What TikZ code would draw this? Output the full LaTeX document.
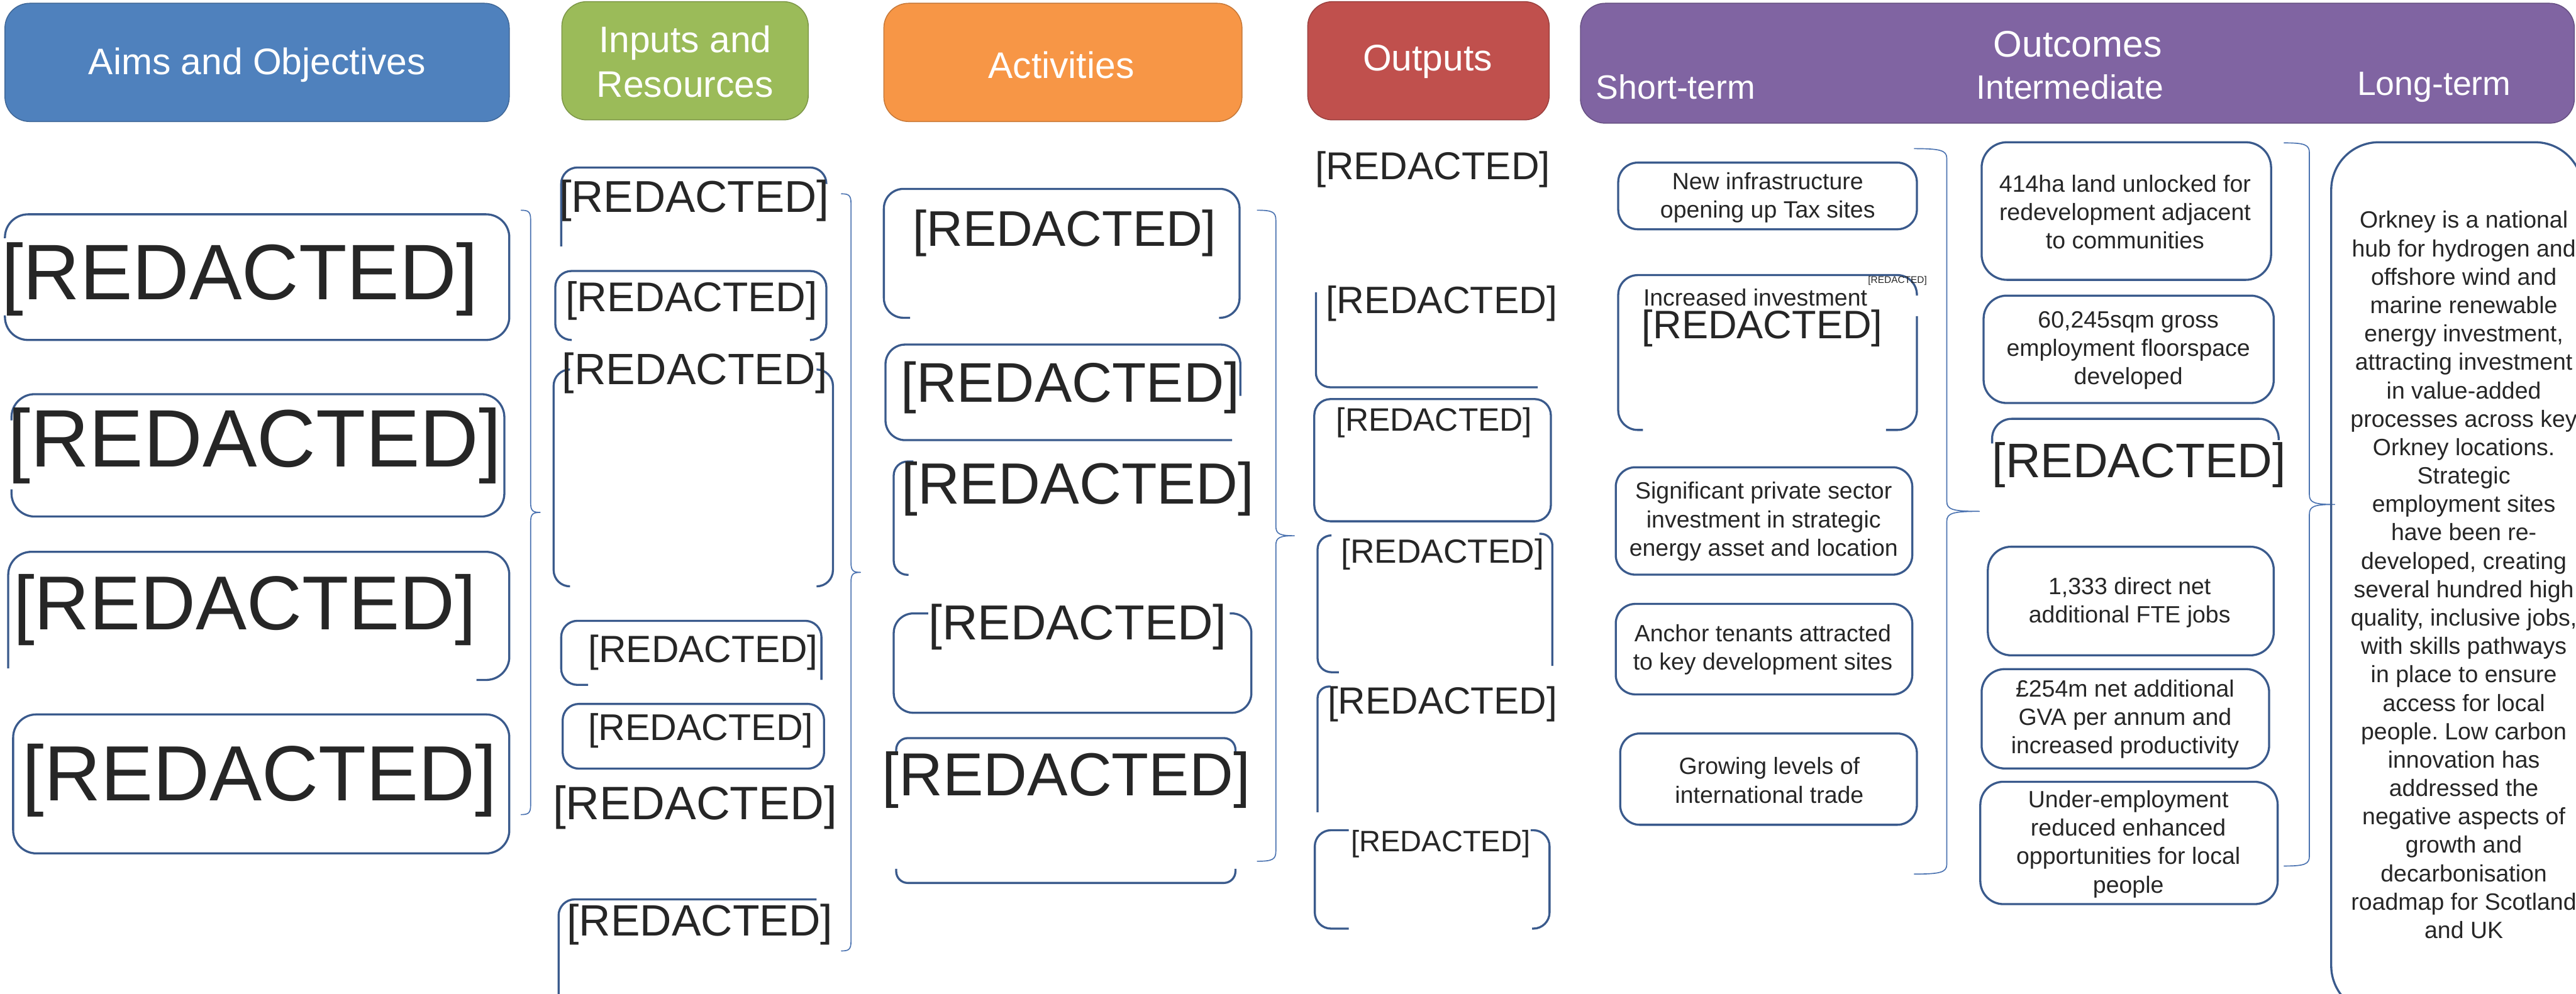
\documentclass[tikz,border=0pt]{standalone}
\usepackage{fontspec}
\setmainfont{Liberation Sans}
\usepackage{tikz}
\definecolor{aimsblue}{HTML}{4F81BD}
\definecolor{inpgreen}{HTML}{9BBB59}
\definecolor{actorange}{HTML}{F79646}
\definecolor{outred}{HTML}{C0504D}
\definecolor{outcpurple}{HTML}{8064A2}
\definecolor{edgeblue}{HTML}{3A5A8C}
\definecolor{braceblue}{HTML}{4A72B0}
\definecolor{inkgrey}{HTML}{262626}
\def\rsz#1{\fontsize{#1}{#1}\selectfont}
\def\sidebrace(#1:#2:#3:#4){%
  \pgfmathsetmacro\bmid{(#2+#3)/2}
  \draw[brc] (#1-#4,#2) .. controls (#1-0.2*#4,#2) and (#1,#2+1) .. (#1,#2+6) -- (#1,\bmid-6)
    .. controls (#1,\bmid-1) and (#1+0.2*#4,\bmid) .. (#1+#4,\bmid)
    .. controls (#1+0.2*#4,\bmid) and (#1,\bmid+1) .. (#1,\bmid+6) -- (#1,#3-6)
    .. controls (#1,#3-1) and (#1-0.2*#4,#3) .. (#1-#4,#3);}
\tikzset{
  hdr/.style={text=white, font=\fontsize{16}{19.2}\selectfont, align=center, inner sep=0pt},
  boxline/.style={draw=edgeblue, line width=0.9pt, rounded corners=8.5pt},
  redact/.style={text=inkgrey, inner sep=0pt},
  txt/.style={text=inkgrey, inner sep=0pt, align=center, font=\fontsize{10.2}{12.3}\selectfont\frenchspacing},
  brc/.style={draw=braceblue, line width=0.45pt}
}

\begin{document}
\begin{tikzpicture}[x=0.025cm, y=-0.025cm]
		%%%%% START %%%%%
		\clip (0,0) rectangle (1568,605);
		
		% headers
		\draw[fill=aimsblue, draw=aimsblue!80!black, rounded corners=10.7pt] (3,2) rectangle (310,74);
		\node[hdr] (aimsh) at (156.5,39.5) {Aims and Objectives};
		\draw[fill=inpgreen, draw=inpgreen!80!black, rounded corners=10.7pt] (342,1) rectangle (492,73);
		\node[hdr] (inph) at (417,37.5) {Inputs and\\Resources};
		\draw[fill=actorange, draw=actorange!80!black, rounded corners=10.7pt] (538,2) rectangle (756,74);
		\node[hdr] (acth) at (646,39.5) {Activities};
		\draw[fill=outred, draw=outred!80!black, rounded corners=10.7pt] (796,1) rectangle (943,73);
		\node[hdr] (outh) at (869,37.5) {Outputs};
		\draw[fill=outcpurple, draw=outcpurple!80!black, rounded corners=10.7pt] (962,2) rectangle (1567,75);
		\node[hdr] (outch) at (1264.7,27) {Outcomes};
		\node[hdr, font=\fontsize{14.6}{17}\selectfont] (shorth) at (1020,53) {Short-term};
		\node[hdr, font=\fontsize{14.6}{17}\selectfont] (midh) at (1260,53) {Intermediate};
		\node[hdr, font=\fontsize{14.6}{17}\selectfont] (longh) at (1481.6,53) {Long-term};
		
		% aims and objectives
		\draw[boxline, rounded corners=10pt] (3,145) -- (3,130.5) -- (310,130.5) -- (310,207) -- (3,207) -- (3,192);
		\draw[boxline, rounded corners=10pt] (7,256) -- (7,240) -- (307,240) -- (307,314.5) -- (7,314.5) -- (7,298);
		\draw[boxline, rounded corners=10pt] (5,407) -- (5,336) -- (310,336) -- (310,414) -- (290,414);
		\draw[boxline, rounded corners=10pt] (8,435) rectangle (310,519.6);
		\node[redact, font=\rsz{34.1}] (aims1) at (146,170) {[REDACTED]};
		\node[redact, font=\rsz{35.3}] (aims2) at (155,271.5) {[REDACTED]};
		\node[redact, font=\rsz{33.1}] (aims3) at (149,371.5) {[REDACTED]};
		\node[redact, font=\rsz{33.9}] (aims4) at (158,475) {[REDACTED]};
		\sidebrace(323:128:496:6)
		
		% inputs and resources
		\draw[boxline, rounded corners=7pt] (341.6,150) -- (341.6,102) -- (503,102) -- (503,112);
		\draw[boxline, rounded corners=7pt] (348,207) -- (338,207) -- (338,165) -- (503,165) -- (503,207) -- (493,207);
		\draw[boxline, rounded corners=7pt] (347,225) -- (337,225) -- (337,357) -- (347,357);
		\draw[boxline, rounded corners=7pt] (497,225) -- (507,225) -- (507,357) -- (497,357);
		\draw[boxline, rounded corners=7pt] (500,414) -- (500,378) -- (341.6,378) -- (341.6,417) -- (358,417);
		\draw[boxline, rounded corners=7pt] (342.5,428.6) rectangle (501.6,468);
		\draw[boxline, rounded corners=7pt] (340,615) -- (340,547.6) -- (497,547.6);
		\node[redact, font=\rsz{19.3}] (inp1) at (422.5,122) {[REDACTED]};
		\node[redact, font=\rsz{18}] (inp2) at (421,183) {[REDACTED]};
		\node[redact, font=\rsz{19}] (inp3) at (423,227) {[REDACTED]};
		\node[redact, font=\rsz{16.4}] (inp4) at (428,397.5) {[REDACTED]};
		\node[redact, font=\rsz{16.1}] (inp5) at (426.5,445) {[REDACTED]};
		\node[redact, font=\rsz{20.3}] (inp6) at (423,491.5) {[REDACTED]};
		\node[redact, font=\rsz{19}] (inp7) at (426,563) {[REDACTED]};
		\sidebrace(518:118:579:6)
		
		% activities
		\draw[boxline] (554,193.5) -- (538,193.5) -- (538,115) -- (754.5,115) -- (754.5,193.5) -- (742,193.5);
		\draw[boxline] (755,241) -- (755,209.8) -- (539,209.8) -- (539,268) -- (750,268);
		\draw[boxline, rounded corners=6pt] (556,281) -- (544,281) -- (544,350) -- (553,350);
		\draw[boxline] (565,373.5) -- (544,373.5) -- (544,434) -- (761.7,434) -- (761.7,373.5) -- (748.5,373.5);
		\draw[boxline, rounded corners=5pt] (545.5,459) -- (545.5,449.4) -- (752,449.4) -- (752,459);
		\draw[boxline, rounded corners=5pt] (545.5,529) -- (545.5,537.6) -- (752,537.6) -- (752,529);
		\node[redact, font=\rsz{21.7}] (act1) at (648,142) {[REDACTED]};
		\node[redact, font=\rsz{24.2}] (act2) at (651.5,236) {[REDACTED]};
		\node[redact, font=\rsz{25.2}] (act3) at (656,297.5) {[REDACTED]};
		\node[redact, font=\rsz{21.3}] (act4) at (656,381.7) {[REDACTED]};
		\node[redact, font=\rsz{26.3}] (act5) at (649,475) {[REDACTED]};
		\sidebrace(776.6:128:524.4:11.5)
		
		% outputs
		\draw[boxline, rounded corners=6.2pt] (801,178) -- (801,235.8) -- (936,235.8);
		\draw[boxline, rounded corners=7pt] (800,243) rectangle (944,317.4);
		\draw[boxline, rounded corners=6pt] (810,326) -- (802,326) -- (802,409.3) -- (815,409.3);
		\draw[boxline, rounded corners=5pt] (937,325) -- (944.9,325) -- (944.9,405.4);
		\draw[boxline, rounded corners=5pt] (810,418) -- (802,418) -- (802,494.5);
		\draw[boxline, rounded corners=7pt] (821,505.5) -- (800.3,505.5) -- (800.3,565.4) -- (821,565.4);
		\draw[boxline, rounded corners=7pt] (931.7,505.5) -- (943.2,505.5) -- (943.2,565.4) -- (932.6,565.4);
		\node[redact, font=\rsz{16.8}] (out1) at (872,103) {[REDACTED]};
		\node[redact, font=\rsz{16.5}] (out2) at (877.6,184.7) {[REDACTED]};
		\node[redact, font=\rsz{14}] (out3) at (873,257.4) {[REDACTED]};
		\node[redact, font=\rsz{14.5}] (out4) at (878,337.7) {[REDACTED]};
		\node[redact, font=\rsz{16.4}] (out5) at (878,428.6) {[REDACTED]};
		\node[redact, font=\rsz{12.8}] (out6) at (877,514) {[REDACTED]};
		
		% short-term outcomes
		\draw[boxline] (985,99) rectangle (1166.8,139.6);
		\node[txt] (st1) at (1076,120.3) {New infrastructure\\opening up Tax sites};
		\draw[boxline] (1000,261.8) -- (985,261.8) -- (985,167.5) -- (1166.8,167.5) -- (1166.8,180);
		\draw[boxline] (1166.8,192.5) -- (1166.8,261.8) -- (1148,261.8);
		\node[txt, anchor=west] (st2) at (1000,181) {Increased investment};
		\node[redact, font=\rsz{17.2}] (st2r) at (1072.7,200) {[REDACTED]};
		\node[redact, font=\rsz{4.2}] (st2tag) at (1155,171) {[REDACTED]};
		\draw[boxline] (983.5,284.5) rectangle (1164,349.9);
		\node[txt] (st3) at (1073.5,317.5) {Significant private sector\\investment in strategic\\energy asset and location};
		\draw[boxline] (983.5,367.7) rectangle (1164,422.8);
		\node[txt] (st4) at (1073,395.7) {Anchor tenants attracted\\to key development sites};
		\draw[boxline] (986.2,446.6) rectangle (1166.8,502.2);
		\node[txt] (st5) at (1077,475.1) {Growing levels of\\international trade};
		\sidebrace(1185:90.5:532.2:20)
		
		% intermediate outcomes
		\draw[boxline, rounded corners=11pt] (1206.2,86.6) rectangle (1382.4,170.4);
		\node[txt] (im1) at (1293.5,129) {414ha land unlocked for\\redevelopment adjacent\\to communities};
		\draw[boxline, rounded corners=10pt] (1207.4,180) rectangle (1384,245.4);
		\node[txt] (im2) at (1295.5,213.4) {60,245sqm gross\\employment floorspace\\developed};
		\draw[boxline] (1212.6,270) -- (1212.6,255) -- (1387,255) -- (1387,268);
		\node[redact, font=\rsz{21}] (im3) at (1302,283) {[REDACTED]};
		\draw[boxline, rounded corners=10pt] (1210,332.9) rectangle (1384,399);
		\node[txt] (im4) at (1296.3,366.7) {1,333 direct net\\additional FTE jobs};
		\draw[boxline, rounded corners=10pt] (1206.2,407.4) rectangle (1381.2,467.9);
		\node[txt] (im5) at (1293.5,437.9) {£254m net additional\\GVA per annum and\\increased productivity};
		\draw[boxline, rounded corners=10pt] (1205.4,476) rectangle (1386.4,550.5);
		\node[txt] (im6) at (1295.5,514) {Under-employment\\reduced enhanced\\opportunities for local\\people};
		\sidebrace(1405.7:87:527.3:15.6)
		
		% long-term outcome
		\draw[boxline, rounded corners=20.6pt] (1572,640) -- (1572,86.6) -- (1419,86.6) -- (1419,617) -- (1480,617);
		\node[txt] (lt) at (1499.7,350) {Orkney is a national\\hub for hydrogen and\\offshore wind and\\marine renewable\\energy investment,\\attracting investment\\in value-added\\processes across key\\Orkney locations.\\Strategic\\employment sites\\have been re-\\developed, creating\\several hundred high\\quality, inclusive jobs,\\with skills pathways\\in place to ensure\\access for local\\people. Low carbon\\innovation has\\addressed the\\negative aspects of\\growth and\\decarbonisation\\roadmap for Scotland\\and UK};
		
		%%%%% END %%%%%
\end{tikzpicture}
\end{document}
